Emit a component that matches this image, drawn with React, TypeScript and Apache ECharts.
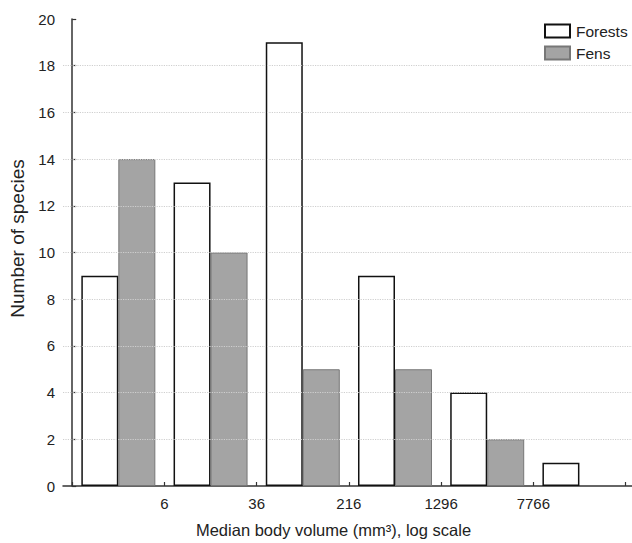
import React, { useEffect, useRef } from "react";
import * as echarts from "echarts";

const binCenters = [0.5, 1.5, 2.5, 3.5, 4.5, 5.5];
const forests = [9, 13, 19, 9, 4, 1];
const fens = [14, 10, 5, 5, 2, 0];
const tickLabels = ["6", "36", "216", "1296", "7766"];
const tickLabelPositions = [1, 2, 3, 4, 5];
const tickPositions = [0, 1, 2, 3, 4, 5, 6];
const gridLineValues = [2, 4, 6, 8, 10, 12, 14, 16, 18];

const FONT = "'Liberation Sans', Arial, Helvetica, sans-serif";

export default function App() {
  const ref = useRef<HTMLDivElement>(null);
  useEffect(() => {
    if (!ref.current) return;
    const chart = echarts.init(ref.current, undefined, { renderer: "svg" });
    chart.setOption({
      animation: false,
      backgroundColor: "#ffffff",
      textStyle: { fontFamily: FONT },
      grid: { left: 63, right: 0, top: 19, bottom: 57 },
      legend: {
        data: ["Forests", "Fens"],
        orient: "vertical",
        left: 544,
        top: 23,
        padding: 0,
        itemWidth: 25,
        itemHeight: 13,
        itemGap: 6,
        icon: "rect",
        textStyle: { fontFamily: FONT, fontSize: 15.5, color: "#222", padding: [0, 0, 0, 1] },
      },
      xAxis: {
        type: "value",
        min: -0.1,
        max: 6.07,
        name: "Median body volume (mm³), log scale",
        nameLocation: "middle",
        nameGap: 35,
        nameTextStyle: { fontFamily: FONT, fontSize: 16.5, color: "#222", padding: [0, 28, 0, 0] },
        axisLine: { show: true, lineStyle: { color: "#333", width: 1.5 } },
        axisTick: {
          show: true,
          inside: true,
          length: 4,
          customValues: tickPositions,
          lineStyle: { color: "#333", width: 1.2 },
        },
        axisLabel: {
          customValues: tickLabelPositions,
          formatter: (v: number) => {
            const i = tickLabelPositions.indexOf(Math.round(v));
            return i >= 0 ? tickLabels[i] : "";
          },
          fontFamily: FONT,
          fontSize: 15,
          color: "#222",
          margin: 10,
        },
        splitLine: { show: false },
      },
      yAxis: {
        type: "value",
        min: 0,
        max: 20,
        interval: 2,
        name: "Number of species",
        nameLocation: "middle",
        nameGap: 36,
        nameTextStyle: { fontFamily: FONT, fontSize: 19, color: "#222", padding: [0, 0, 0, 28] },
        axisLine: { show: true, lineStyle: { color: "#333", width: 1.5 } },
        axisTick: { show: true, inside: true, length: 4, lineStyle: { color: "#333", width: 1.2 } },
        axisLabel: { fontFamily: FONT, fontSize: 15, color: "#222", margin: 8 },
        splitLine: { show: false },
      },
      series: [
        {
          type: "line",
          data: [],
          z: 1,
          silent: true,
          markLine: {
            silent: true,
            symbol: "none",
            label: { show: false },
            lineStyle: { color: "#cfcfcf", type: "dotted", width: 1.2 },
            data: gridLineValues.map((v) => ({ yAxis: v })),
          },
        },
        {
          name: "Forests",
          type: "bar",
          z: 3,
          barWidth: 37,
          barGap: "0%",
          data: binCenters.map((x, i) => [x, forests[i]]),
          itemStyle: { color: "#ffffff", borderColor: "#111", borderWidth: 1.5 },
        },
        {
          name: "Fens",
          type: "bar",
          z: 3,
          barWidth: 37,
          barGap: "0%",
          data: binCenters.map((x, i) => (fens[i] > 0 ? [x, fens[i]] : [x, "-"])),
          itemStyle: { color: "#a4a4a4", borderColor: "#777", borderWidth: 1 },
        },
      ],
    });
    return () => chart.dispose();
  }, []);
  return (
    <div
      ref={ref}
      style={{ position: "fixed", left: 0, top: 0, width: 632, height: 543 }}
    />
  );
}
